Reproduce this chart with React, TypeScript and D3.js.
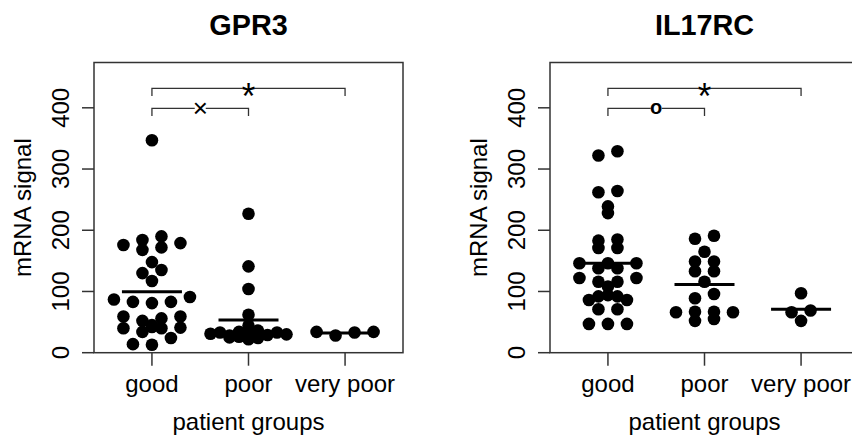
import React from "react";
import * as d3 from "d3";

// ---------- data ----------
const groups = ["good", "poor", "very poor"];
const genes = ["GPR3", "IL17RC"];
const yTicks = [0, 100, 200, 300, 400];
const yLabel = "mRNA signal";
const xLabel = "patient groups";

// GPR3 values per group, with the beeswarm column (slot) of each point
const gpr3Good = [347, 190, 184, 179, 176, 172, 168, 148, 135, 130, 117, 91, 87, 83, 81, 83, 59, 59, 56, 52, 45, 42, 41, 40, 40, 34, 24, 14, 13];
const gpr3GoodSlot = [0, 1, -1, 3, -3, 1, -1, 0, 1, -1, 0, 4, -4, -2, 0, 2, -3, 3, 1, -1, 0, 0, 3, -3, 1, -1, 2, -2, 0];
const gpr3Poor = [227, 141, 104, 62, 44, 36, 34, 33, 33, 31, 30, 30, 29, 28, 26, 24, 22, 25];
const gpr3PoorSlot = [0, 0, 0, 0, 0, 1, -1, -3, 3, -4, 4, 0, 2, -2, -1, 1, 0, -2];
const gpr3VeryPoor = [34, 28, 33, 34];
const gpr3VeryPoorSlot = [-3, -1, 1, 3];

// IL17RC
const il17Good = [322, 329, 262, 264, 239, 228, 183, 171, 185, 171, 146, 146, 146, 138, 138, 116, 116, 108, 122, 122, 86, 92, 94, 92, 86, 71, 71, 47, 47, 47];
const il17GoodSlot = [-1, 1, -1, 1, 0, 0, -1, -1, 1, 1, -3, 3, 0, -1, 1, -1, 1, 0, -3, 3, -2, -1, 0, 1, 2, -1, 1, -2, 0, 2];
const il17Poor = [191, 186, 165, 149, 149, 133, 133, 116, 96, 89, 66, 67, 67, 66, 52, 55];
const il17PoorSlot = [1, -1, 0, -1, 1, -1, 1, 0, 1, -1, -3, -1, 1, 3, -1, 1];
const il17VeryPoor = [97, 66, 69, 52];
const il17VeryPoorSlot = [0, -1, 1, 0];

// significance marks: [from group, to group, symbol]
const gpr3Signif: [number, number, string][] = [[0, 2, "*"], [0, 1, "×"]];
const il17Signif: [number, number, string][] = [[0, 2, "*"], [0, 1, "o"]];

const panels = [
  { gene: genes[0], values: [gpr3Good, gpr3Poor, gpr3VeryPoor], slots: [gpr3GoodSlot, gpr3PoorSlot, gpr3VeryPoorSlot], signif: gpr3Signif },
  { gene: genes[1], values: [il17Good, il17Poor, il17VeryPoor], slots: [il17GoodSlot, il17PoorSlot, il17VeryPoorSlot], signif: il17Signif },
];

// ---------- layout ----------
const W = 852;
const H = 436;
const FONT = "'Liberation Sans', Arial, Helvetica, sans-serif";
const panelOffset = 456;
const boxL = 94, boxR = 403, boxT = 62.5, boxB = 352.7;
const slotPx = 9.5;
const dotR = 6.3;
const meanHalf = 30;
const ink = "#333";

function Panel({ p, dx }: { p: any; dx: number }) {
  const x = d3.scaleLinear().domain([0.4, 3.6]).range([boxL + dx, boxR + dx]);
  const y = d3.scaleLinear().domain([0, 474]).range([boxB, boxT]);
  const cx = (boxL + boxR) / 2 + dx;
  const cy = (boxT + boxB) / 2;
  const bracketY = [88.3, 108.3];
  const bracketDrop = 7.7;

  return (
    <g>
      {/* title */}
      <text x={cx} y={35} textAnchor="middle" fontFamily={FONT} fontWeight="bold" fontSize={28.8} fill="#000">
        {p.gene}
      </text>
      {/* box */}
      <rect x={boxL + dx} y={boxT} width={boxR - boxL} height={boxB - boxT} fill="none" stroke={ink} strokeWidth={1.5} />
      {/* y axis */}
      {yTicks.map((t) => (
        <g key={t}>
          <line x1={boxL + dx - 12} x2={boxL + dx} y1={y(t)} y2={y(t)} stroke={ink} strokeWidth={1.5} />
          <text transform={`translate(${boxL + dx - 25},${y(t)}) rotate(-90)`} textAnchor="middle" fontFamily={FONT} fontSize={24} fill="#000">
            {t}
          </text>
        </g>
      ))}
      <text transform={`translate(${31 + dx},${cy}) rotate(-90)`} textAnchor="middle" fontFamily={FONT} fontSize={24} fill="#000">
        {yLabel}
      </text>
      {/* x axis */}
      {groups.map((g, i) => (
        <g key={g}>
          <line x1={x(i + 1)} x2={x(i + 1)} y1={boxB} y2={boxB + 13} stroke={ink} strokeWidth={1.5} />
          <text x={x(i + 1)} y={392} textAnchor="middle" fontFamily={FONT} fontSize={24} fill="#000">
            {g}
          </text>
        </g>
      ))}
      <text x={cx} y={430} textAnchor="middle" fontFamily={FONT} fontSize={24} fill="#000">
        {xLabel}
      </text>
      {/* points */}
      {p.values.map((vals: number[], gi: number) => (
        <g key={gi}>
          {vals.map((v, k) => (
            <circle key={k} cx={x(gi + 1) + p.slots[gi][k] * slotPx} cy={y(v)} r={dotR} fill="#000" />
          ))}
        </g>
      ))}
      {/* mean lines */}
      {p.values.map((vals: number[], gi: number) => {
        const m = d3.mean(vals) as number;
        return <line key={gi} x1={x(gi + 1) - meanHalf} x2={x(gi + 1) + meanHalf} y1={y(m)} y2={y(m)} stroke="#000" strokeWidth={3} />;
      })}
      {/* significance brackets */}
      {p.signif.map(([a, b, s]: [number, number, string], i: number) => {
        const by = bracketY[i];
        const xa = x(a + 1);
        const xb = x(b + 1);
        const xm = (xa + xb) / 2;
        const gap = s === "*" ? 6 : 5.5;
        const fs = s === "*" ? 36 : s === "o" ? 20 : 26;
        const ty = s === "*" ? by + 20.5 : s === "o" ? by + 5.5 : by + 9;
        return (
          <g key={i}>
            <path d={`M${xa},${by + bracketDrop}V${by}H${xm - gap}`} fill="none" stroke={ink} strokeWidth={1.3} />
            <path d={`M${xm + gap},${by}H${xb}V${by + bracketDrop}`} fill="none" stroke={ink} strokeWidth={1.3} />
            <text x={xm} y={ty} textAnchor="middle" fontFamily={FONT} fontSize={fs} fontWeight={s === "o" ? "bold" : "normal"} fill="#000">
              {s}
            </text>
          </g>
        );
      })}
    </g>
  );
}

export default function App() {
  return (
    <svg width={W} height={H} style={{ position: "absolute", left: 0, top: 0, background: "#fff" }}>
      <rect x={0} y={0} width={W} height={H} fill="#fff" />
      {panels.map((p, i) => (
        <Panel key={p.gene} p={p} dx={i * panelOffset} />
      ))}
    </svg>
  );
}
